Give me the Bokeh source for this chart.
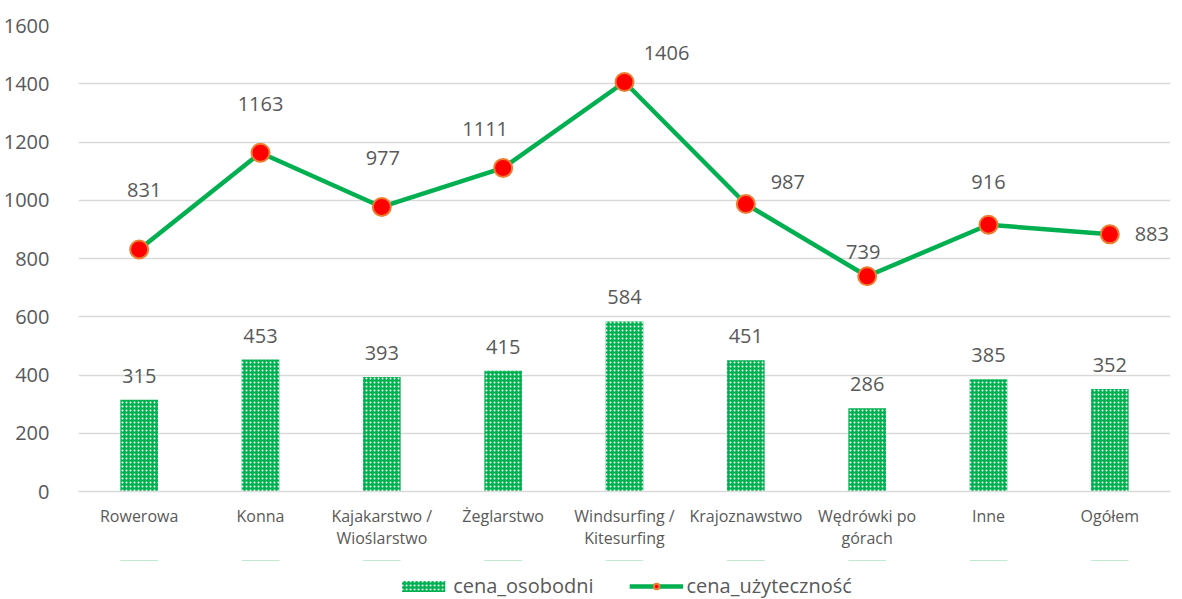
from bokeh.plotting import figure
from bokeh.layouts import column
from bokeh.models import (ColumnDataSource, Range1d, FixedTicker, Legend, LegendItem)
from bokeh.embed import file_html
from bokeh.resources import INLINE
from bokeh.core.properties import value

categories = ["Rowerowa", "Konna", "Kajakarstwo /\nWioślarstwo", "Żeglarstwo",
              "Windsurfing /\nKitesurfing", "Krajoznawstwo", "Wędrówki po\ngórach",
              "Inne", "Ogółem"]
cena_osobodni = [315, 453, 393, 415, 584, 451, 286, 385, 352]
cena_uzytecznosc = [831, 1163, 977, 1111, 1406, 987, 739, 916, 883]
y_ticks = [0, 200, 400, 600, 800, 1000, 1200, 1400, 1600]

# label placement offsets (screen px) for line data labels
line_dx = [5, 0, 1, -18, 42, 42, -4, 0, 42]
line_dy = [-59, -49, -49, -39, -29, -22, -24, -43, 0]

FONT = "Open Sans"
TXT = "#595959"
GREEN = "#00B050"
BAR_STYLE = dict(fill_color=GREEN, line_color=None, hatch_pattern="dot",
                 hatch_color="white", hatch_scale=4, hatch_weight=1.8)
LINE_STYLE = dict(line_color=GREEN, line_width=4.5)
PT_STYLE = dict(size=18, fill_color="#FF0000", line_color="#ED7D31", line_width=2)

xs = list(range(len(categories)))
src = ColumnDataSource(dict(
    x=xs, bar=cena_osobodni, line=cena_uzytecznosc,
    bar_lbl=[str(v) for v in cena_osobodni],
    line_lbl=[str(v) for v in cena_uzytecznosc],
    dx=line_dx, dy=line_dy,
))

p = figure(width=1172, height=560, output_backend="svg", toolbar_location=None,
           x_range=Range1d(-0.5, 8.5), y_range=Range1d(0, 1600),
           min_border_left=72, min_border_right=2, min_border_top=25,
           min_border_bottom=69)
p.outline_line_color = None
p.background_fill_color = "white"
p.border_fill_color = "white"

p.vbar(x="x", top="bar", width=0.31, source=src, **BAR_STYLE)
p.line(x="x", y="line", source=src, **LINE_STYLE)
p.scatter(x="x", y="line", source=src, **PT_STYLE)

p.text(x="x", y="bar", text="bar_lbl", source=src, text_align="center",
       text_baseline="middle", y_offset=-24, text_font=value(FONT),
       text_font_size="20px", text_color=TXT)
p.text(x="x", y="line", text="line_lbl", source=src, text_align="center",
       text_baseline="middle", x_offset="dx", y_offset="dy", text_font=value(FONT),
       text_font_size="20px", text_color=TXT)

# axes
p.xgrid.visible = False
p.ygrid.grid_line_color = "#D9D9D9"
p.ygrid.grid_line_width = 1.3
p.yaxis.ticker = FixedTicker(ticks=y_ticks)
p.yaxis.axis_line_color = None
p.yaxis.major_tick_line_color = None
p.yaxis.minor_tick_line_color = None
p.yaxis.major_label_standoff = 23
p.yaxis.major_label_text_font = FONT
p.yaxis.major_label_text_font_size = "20px"
p.yaxis.major_label_text_color = TXT

p.xaxis.ticker = FixedTicker(ticks=xs)
p.xaxis.major_label_overrides = {i: c for i, c in enumerate(categories)}
p.xaxis.axis_line_color = "#D9D9D9"
p.xaxis.axis_line_width = 1.3
p.xaxis.major_tick_line_color = None
p.xaxis.minor_tick_line_color = None
p.xaxis.major_label_standoff = 7
p.xaxis.major_label_text_font = FONT
p.xaxis.major_label_text_font_size = "16px"
p.xaxis.major_label_text_color = TXT
p.xaxis.major_label_text_line_height = 1.0

# legend strip below the chart (same series, drawn out of its view range,
# so that only the legend glyphs show)
lf = figure(width=1172, height=39, output_backend="svg", toolbar_location=None,
            x_range=Range1d(-0.5, 8.5), y_range=Range1d(-20, -10),
            x_axis_type=None, y_axis_type=None,
            min_border_left=0, min_border_right=0, min_border_top=0,
            min_border_bottom=0)
lf.outline_line_color = None
lf.grid.visible = False
lf.background_fill_color = "white"
lb = lf.vbar(x="x", top="bar", bottom="bar", width=0.31, source=src, **BAR_STYLE)
ll = lf.line(x="x", y="line", source=src, **LINE_STYLE)
lp = lf.scatter(x="x", y="line", source=src, **PT_STYLE)

legend = Legend(items=[LegendItem(label="cena_osobodni", renderers=[lb]),
                       LegendItem(label="cena_użyteczność", renderers=[ll, lp])],
                orientation="horizontal", location="bottom_center",
                glyph_width=54, glyph_height=14, spacing=36, label_standoff=3,
                label_text_font=FONT, label_text_font_size="20px",
                label_text_color=TXT, border_line_color=None,
                background_fill_alpha=0, padding=0, margin=0)
lf.add_layout(legend, "center")

layout = column(p, lf, spacing=0)
open("out.html", "w").write(file_html(layout, INLINE))
